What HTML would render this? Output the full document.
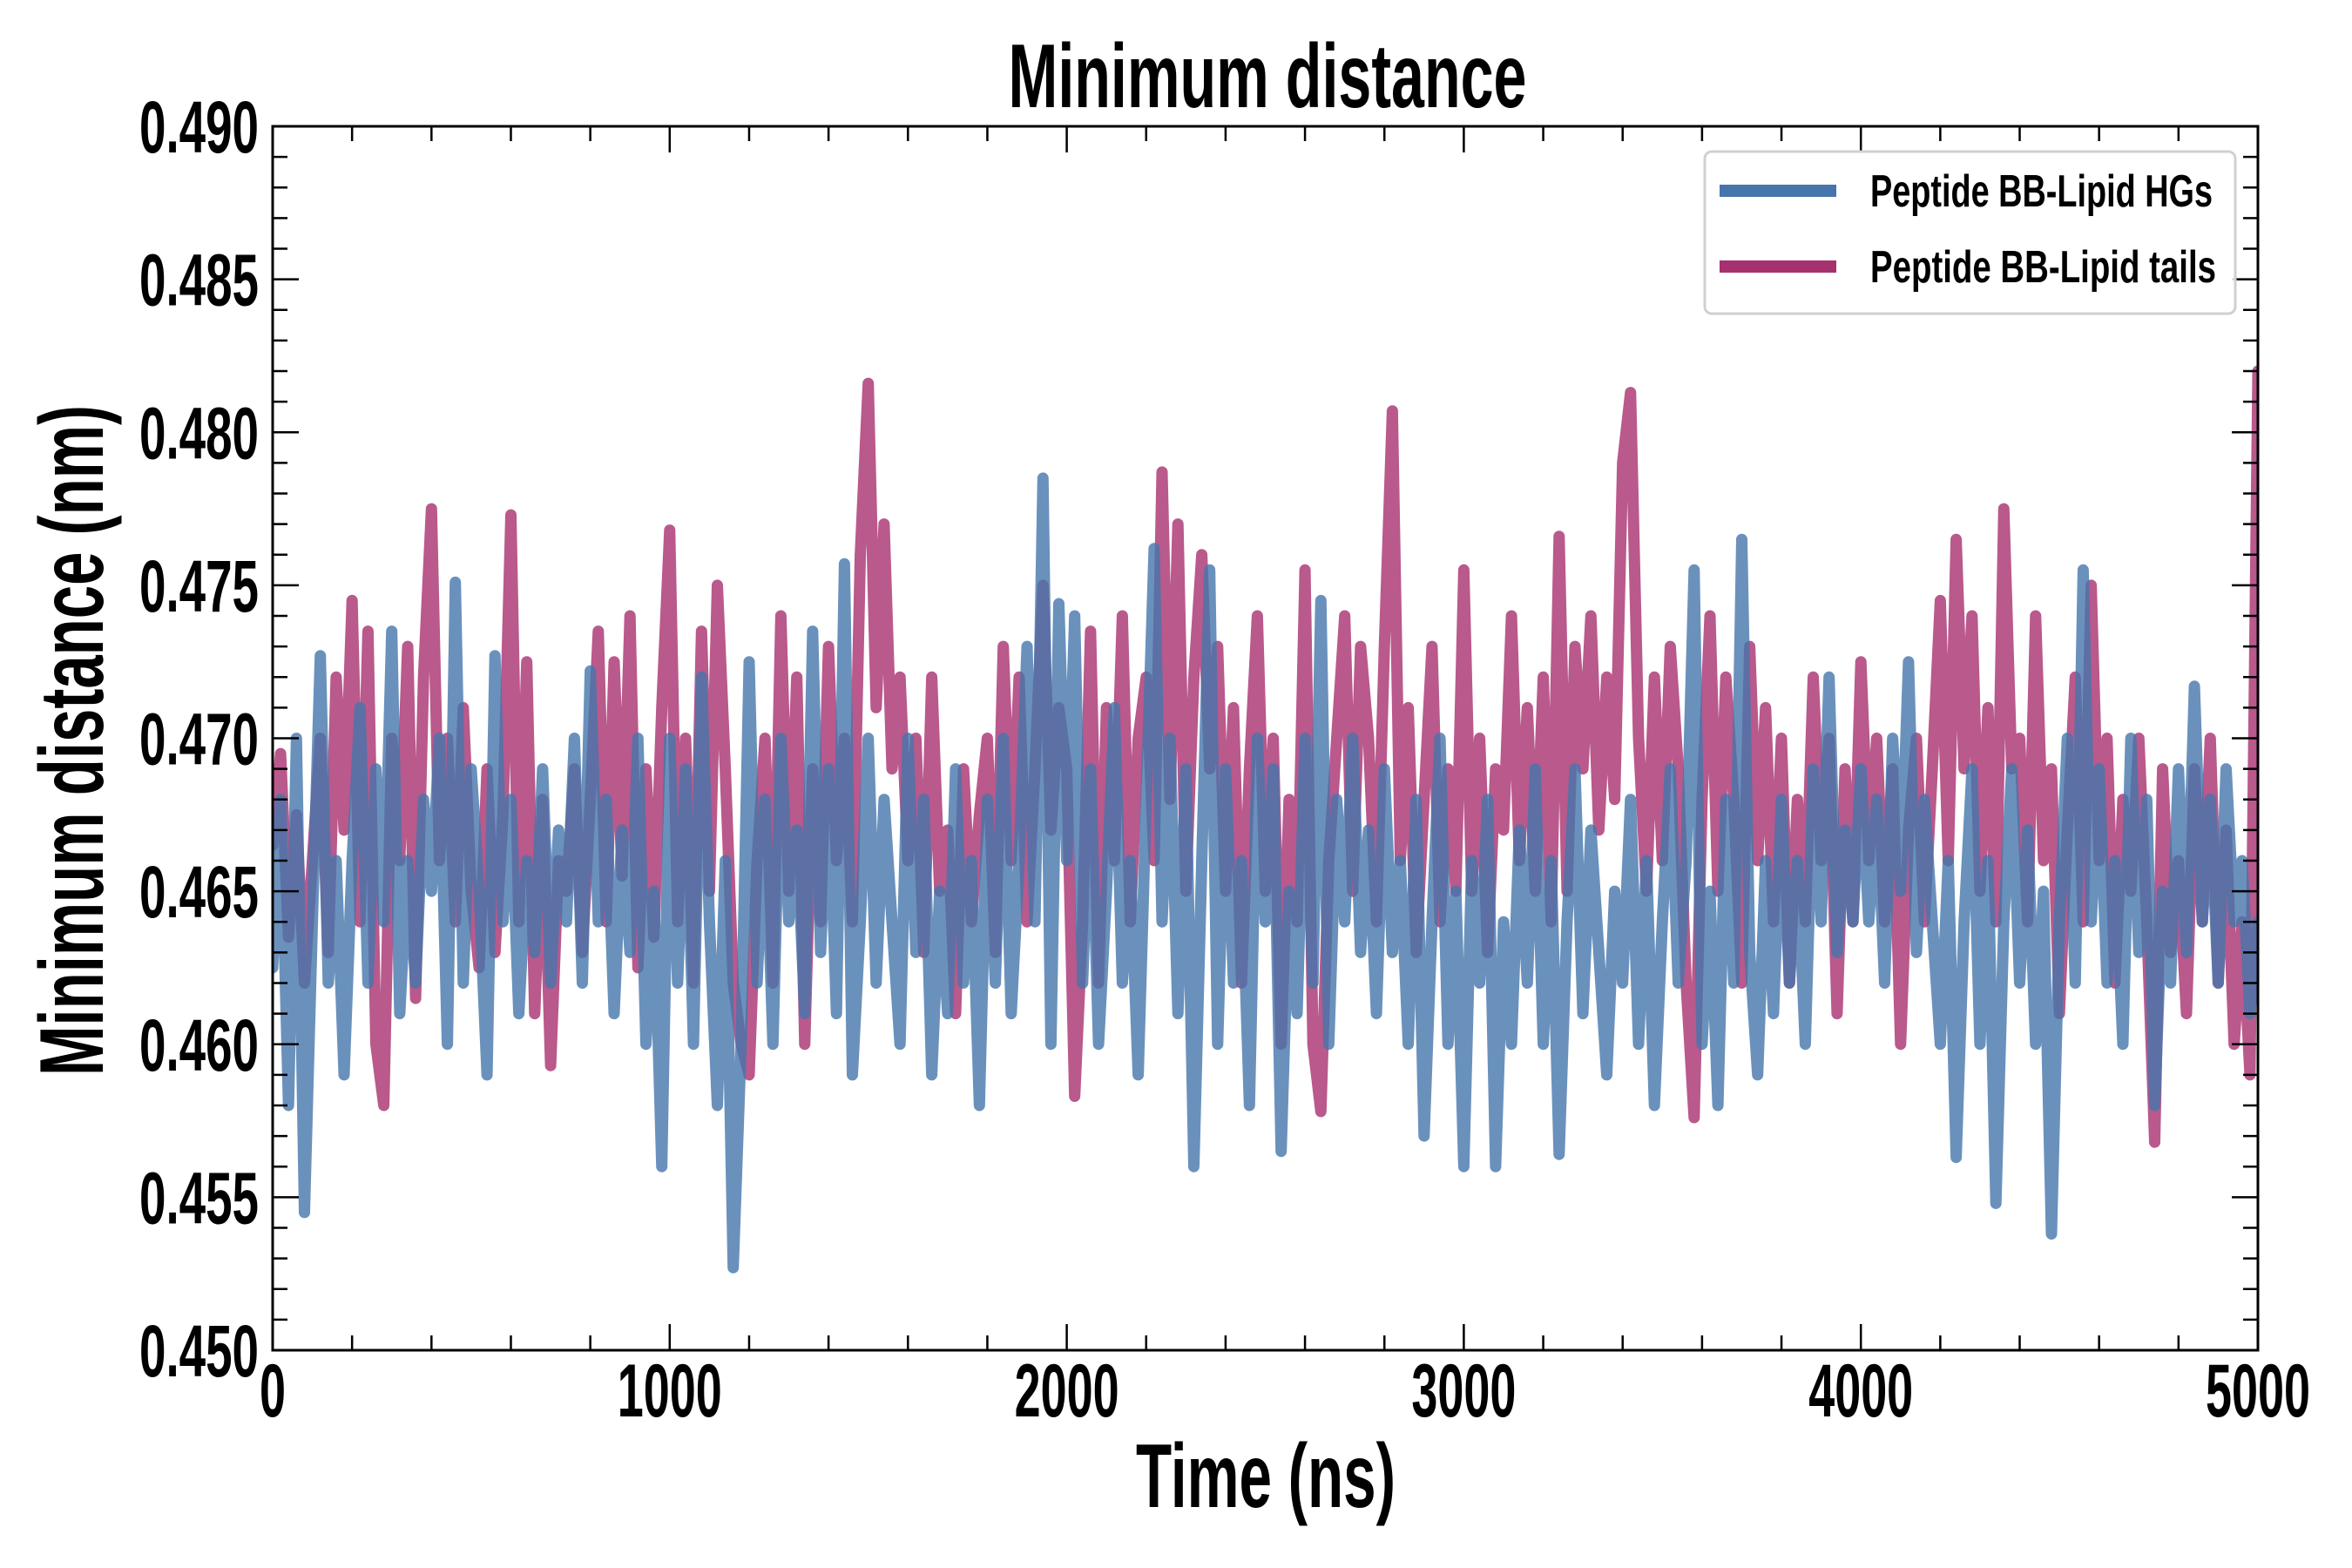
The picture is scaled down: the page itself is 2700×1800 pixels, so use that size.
<!DOCTYPE html>
<html><head><meta charset="utf-8"><style>
html,body{margin:0;padding:0;background:#fff;}
svg{display:block;}
text{font-family:"Liberation Sans Narrow","Liberation Sans",sans-serif;font-weight:bold;fill:#000;}
</style></head><body>
<svg id="chart" width="2700" height="1800" viewBox="0 0 2700 1800" xmlns="http://www.w3.org/2000/svg">
<rect width="2700" height="1800" fill="#fff"/>
<text x="1455" y="123" font-size="104" text-anchor="middle" textLength="595" lengthAdjust="spacingAndGlyphs">Minimum distance</text>
<text x="1453" y="1730" font-size="104" text-anchor="middle" textLength="298" lengthAdjust="spacingAndGlyphs">Time (ns)</text>
<text transform="translate(118,850) rotate(-90)" x="0" y="0" font-size="104" text-anchor="middle" textLength="770" lengthAdjust="spacingAndGlyphs">Minimum distance (nm)</text>
<g id="series"></g>
<g id="axes"></g>
<g>
<rect x="1957" y="174" width="609" height="186" rx="8" fill="#fff" fill-opacity="0.85" stroke="#d0d0d0" stroke-width="3"/>
<line x1="1974" y1="219" x2="2108" y2="219" stroke="#4575ab" stroke-width="14"/>
<text x="2147" y="237" font-size="52" textLength="393" lengthAdjust="spacingAndGlyphs">Peptide BB-Lipid HGs</text>
<line x1="1974" y1="306" x2="2108" y2="306" stroke="#a7306f" stroke-width="14"/>
<text x="2147" y="324" font-size="52" textLength="397" lengthAdjust="spacingAndGlyphs">Peptide BB-Lipid tails</text>
</g>
</svg>
<script>
const timeStep = 20;
const xTickValues = [0,1000,2000,3000,4000,5000];
const xTickLabels = ["0","1000","2000","3000","4000","5000"];
const yTickValues = [0.450,0.455,0.460,0.465,0.470,0.475,0.480,0.485,0.490];
const yTickLabels = ["0.450","0.455","0.460","0.465","0.470","0.475","0.480","0.485","0.490"];
const tailsValues = [
0.4665,0.4695,0.4635,0.4675,0.4620,0.4660,0.4700,0.4630,0.4720,0.4670,
0.4745,0.4640,0.4735,0.4600,0.4580,0.4700,0.4660,0.4730,0.4615,0.4720,
0.4775,0.4660,0.4700,0.4640,0.4710,0.4650,0.4625,0.4690,0.4630,0.4675,
0.4773,0.4640,0.4725,0.4610,0.4680,0.4593,0.4660,0.4650,0.4690,0.4630,
0.4680,0.4735,0.4640,0.4725,0.4655,0.4740,0.4625,0.4690,0.4635,0.4710,
0.4768,0.4640,0.4700,0.4620,0.4735,0.4650,0.4750,0.4690,0.4620,0.4600,
0.4590,0.4660,0.4700,0.4620,0.4740,0.4650,0.4720,0.4600,0.4690,0.4640,
0.4730,0.4660,0.4700,0.4640,0.4760,0.4816,0.4710,0.4770,0.4690,0.4720,
0.4660,0.4700,0.4630,0.4720,0.4650,0.4670,0.4610,0.4690,0.4640,0.4675,
0.4700,0.4630,0.4730,0.4660,0.4720,0.4640,0.4690,0.4750,0.4670,0.4710,
0.4690,0.4583,0.4640,0.4735,0.4620,0.4710,0.4660,0.4740,0.4640,0.4700,
0.4720,0.4660,0.4787,0.4680,0.4770,0.4650,0.4720,0.4760,0.4690,0.4730,
0.4650,0.4710,0.4620,0.4690,0.4740,0.4650,0.4700,0.4600,0.4680,0.4640,
0.4755,0.4600,0.4578,0.4660,0.4700,0.4740,0.4650,0.4730,0.4700,0.4640,
0.4730,0.4807,0.4660,0.4710,0.4630,0.4680,0.4730,0.4640,0.4690,0.4650,
0.4755,0.4650,0.4700,0.4630,0.4690,0.4670,0.4740,0.4660,0.4710,0.4650,
0.4720,0.4640,0.4766,0.4650,0.4730,0.4690,0.4740,0.4670,0.4720,0.4680,
0.4790,0.4813,0.4700,0.4650,0.4720,0.4660,0.4730,0.4690,0.4620,0.4576,
0.4680,0.4740,0.4650,0.4720,0.4680,0.4620,0.4730,0.4660,0.4710,0.4640,
0.4700,0.4620,0.4680,0.4640,0.4720,0.4660,0.4700,0.4610,0.4690,0.4640,
0.4725,0.4660,0.4700,0.4640,0.4690,0.4600,0.4670,0.4700,0.4640,0.4690,
0.4745,0.4660,0.4765,0.4690,0.4740,0.4650,0.4710,0.4640,0.4775,0.4690,
0.4700,0.4640,0.4740,0.4660,0.4690,0.4610,0.4670,0.4720,0.4640,0.4750,
0.4660,0.4700,0.4620,0.4680,0.4650,0.4700,0.4640,0.4568,0.4690,0.4630,
0.4660,0.4610,0.4690,0.4640,0.4700,0.4620,0.4670,0.4600,0.4640,0.4590,
0.4820];
const hgsValues = [
0.4625,0.4680,0.4580,0.4700,0.4545,0.4640,0.4727,0.4620,0.4660,0.4590,
0.4660,0.4710,0.4620,0.4690,0.4640,0.4735,0.4610,0.4660,0.4620,0.4680,
0.4650,0.4700,0.4600,0.4751,0.4620,0.4690,0.4650,0.4590,0.4727,0.4640,
0.4680,0.4610,0.4660,0.4630,0.4690,0.4620,0.4670,0.4640,0.4700,0.4620,
0.4722,0.4640,0.4680,0.4610,0.4670,0.4630,0.4700,0.4600,0.4650,0.4560,
0.4700,0.4620,0.4690,0.4600,0.4720,0.4640,0.4580,0.4660,0.4527,0.4600,
0.4725,0.4620,0.4680,0.4600,0.4700,0.4640,0.4670,0.4610,0.4735,0.4630,
0.4690,0.4610,0.4757,0.4590,0.4640,0.4700,0.4620,0.4680,0.4640,0.4600,
0.4700,0.4630,0.4680,0.4590,0.4650,0.4610,0.4690,0.4620,0.4660,0.4580,
0.4680,0.4620,0.4700,0.4610,0.4660,0.4730,0.4640,0.4785,0.4600,0.4744,
0.4660,0.4740,0.4620,0.4690,0.4600,0.4650,0.4710,0.4620,0.4660,0.4590,
0.4680,0.4762,0.4640,0.4700,0.4610,0.4690,0.4560,0.4660,0.4755,0.4600,
0.4690,0.4620,0.4660,0.4580,0.4700,0.4640,0.4690,0.4565,0.4650,0.4610,
0.4700,0.4620,0.4745,0.4600,0.4680,0.4640,0.4700,0.4630,0.4670,0.4610,
0.4690,0.4630,0.4660,0.4600,0.4680,0.4570,0.4640,0.4700,0.4600,0.4650,
0.4560,0.4660,0.4620,0.4680,0.4560,0.4640,0.4600,0.4670,0.4620,0.4690,
0.4600,0.4660,0.4564,0.4640,0.4690,0.4610,0.4670,0.4630,0.4590,0.4650,
0.4620,0.4680,0.4600,0.4660,0.4580,0.4640,0.4690,0.4620,0.4660,0.4755,
0.4600,0.4650,0.4580,0.4680,0.4620,0.4765,0.4630,0.4590,0.4660,0.4610,
0.4680,0.4620,0.4660,0.4600,0.4690,0.4640,0.4720,0.4630,0.4670,0.4640,
0.4690,0.4640,0.4680,0.4620,0.4700,0.4650,0.4725,0.4630,0.4680,0.4640,
0.4600,0.4660,0.4563,0.4640,0.4690,0.4600,0.4660,0.4548,0.4640,0.4690,
0.4620,0.4670,0.4600,0.4650,0.4538,0.4640,0.4700,0.4620,0.4755,0.4640,
0.4690,0.4620,0.4660,0.4600,0.4700,0.4630,0.4680,0.4580,0.4650,0.4620,
0.4690,0.4630,0.4717,0.4640,0.4680,0.4620,0.4690,0.4640,0.4660,0.4610,
0.4640];

const NS = "http://www.w3.org/2000/svg";
const L = 313, R = 2592, T = 145, B = 1550;
const xMin = 0, xMax = 5000, yMin = 0.450, yMax = 0.490;
function xScale(v){ return L + (v - xMin) / (xMax - xMin) * (R - L); }
function yScale(v){ return B - (v - yMin) / (yMax - yMin) * (B - T); }

const seriesG = document.getElementById('series');
const axesG = document.getElementById('axes');

const clip = document.createElementNS(NS, 'clipPath');
clip.setAttribute('id', 'plotclip');
const cr = document.createElementNS(NS, 'rect');
cr.setAttribute('x', L); cr.setAttribute('y', T);
cr.setAttribute('width', R - L); cr.setAttribute('height', B - T);
clip.appendChild(cr);
document.getElementById('chart').appendChild(clip);
seriesG.setAttribute('clip-path', 'url(#plotclip)');

function drawSeries(vals, color, name){
  let d = '';
  vals.forEach((v, i) => {
    d += (i ? 'L' : 'M') + xScale(i * timeStep).toFixed(1) + ' ' + yScale(v).toFixed(1);
  });
  const p = document.createElementNS(NS, 'path');
  
  
  p.setAttribute('d', d);
  p.setAttribute('fill', 'none');
  p.setAttribute('stroke', color);
  p.setAttribute('stroke-width', '13');
  p.setAttribute('stroke-opacity', '0.8');
  p.setAttribute('stroke-linejoin', 'round');
  p.setAttribute('stroke-linecap', 'round');
  seriesG.appendChild(p);
}
drawSeries(tailsValues, '#a7306f', 'series-lipid-tails');
drawSeries(hgsValues, '#4575ab', 'series-lipid-hgs');

function line(x1,y1,x2,y2,w,name){
  const l = document.createElementNS(NS, 'line');
  
  
  l.setAttribute('x1', x1); l.setAttribute('y1', y1);
  l.setAttribute('x2', x2); l.setAttribute('y2', y2);
  l.setAttribute('stroke', '#000'); l.setAttribute('stroke-width', w);
  axesG.appendChild(l);
}
for (let v = 0; v <= 5000; v += 200) {
  const major = v % 1000 === 0;
  const len = major ? 30 : 17;
  const x = xScale(v);
  line(x, B, x, B - len, 2.5, major ? 'x-major-tick' : 'x-minor-tick');
  line(x, T, x, T + len, 2.5, major ? 'x-major-tick-top' : 'x-minor-tick-top');
}
for (let k = 0; k <= 40; k++) {
  const v = 0.450 + k * 0.001;
  const major = k % 5 === 0;
  const len = major ? 30 : 17;
  const y = yScale(v);
  line(L, y, L + len, y, 2.5, major ? 'y-major-tick' : 'y-minor-tick');
  line(R, y, R - len, y, 2.5, major ? 'y-major-tick-right' : 'y-minor-tick-right');
}
xTickValues.forEach((v, i) => {
  const t = document.createElementNS(NS, 'text');
  
  
  t.setAttribute('x', xScale(v)); t.setAttribute('y', 1626);
  t.setAttribute('font-size', '86'); t.setAttribute('text-anchor', 'middle');
  t.setAttribute('textLength', xTickLabels[i].length * 30);
  t.setAttribute('lengthAdjust', 'spacingAndGlyphs');
  t.textContent = xTickLabels[i];
  axesG.appendChild(t);
});
yTickValues.forEach((v, i) => {
  const t = document.createElementNS(NS, 'text');
  
  
  t.setAttribute('x', 297); t.setAttribute('y', yScale(v) + 30);
  t.setAttribute('font-size', '84'); t.setAttribute('text-anchor', 'end');
  t.setAttribute('textLength', 137);
  t.setAttribute('lengthAdjust', 'spacingAndGlyphs');
  t.textContent = yTickLabels[i];
  axesG.appendChild(t);
});
const frame = document.createElementNS(NS, 'rect');


frame.setAttribute('x', L); frame.setAttribute('y', T);
frame.setAttribute('width', R - L); frame.setAttribute('height', B - T);
frame.setAttribute('fill', 'none'); frame.setAttribute('stroke', '#000'); frame.setAttribute('stroke-width', '3');
axesG.appendChild(frame);
</script>
</body></html>
